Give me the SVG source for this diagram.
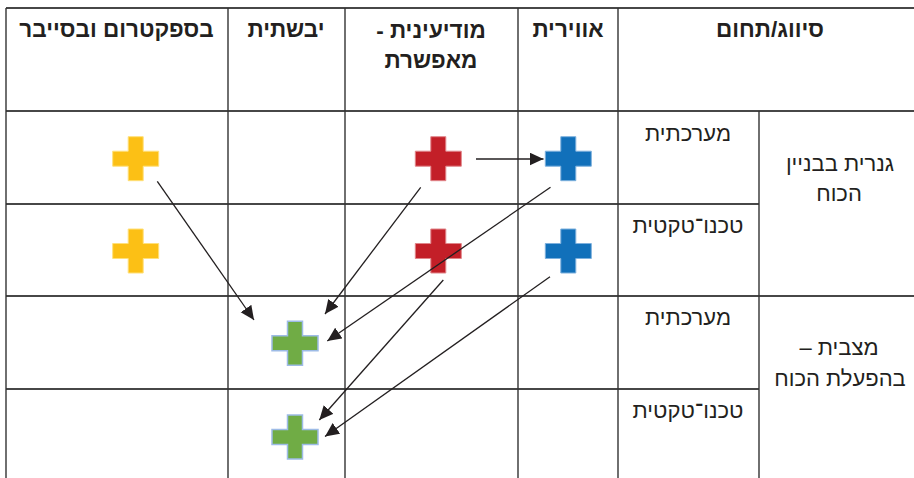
<svg xmlns="http://www.w3.org/2000/svg" width="914" height="478" viewBox="0 0 914 478">
<style>
.hl{stroke:#474747;stroke-width:2;fill:none}
.vl{stroke:#333;stroke-width:1.4;fill:none}
.h{font-family:"Liberation Sans","DejaVu Sans",sans-serif;font-weight:bold;font-size:22.5px;fill:#231F20;text-anchor:middle}
.t{font-family:"Liberation Sans","DejaVu Sans",sans-serif;font-size:22px;fill:#231F20;text-anchor:middle}
.c{stroke:#231F20;stroke-width:1.3;fill:none;marker-end:url(#ah)}
.yel{fill:#FCC015;stroke:#FFE07A;stroke-width:1}
.red{fill:#C31F28;stroke:#E0868A;stroke-width:1}
.blu{fill:#1170BA;stroke:#7DB0DD;stroke-width:1}
.grn{fill:#70AC45;stroke:#9DBBE6;stroke-width:1.5}
</style>
<defs>
<marker id="ah" markerUnits="userSpaceOnUse" markerWidth="16" markerHeight="14" refX="14" refY="6.5" orient="auto">
<path d="M0,0 L14,6.5 L0,13 z" fill="#231F20"/>
</marker>
<path id="cross" d="M-7.5,-22 h15 v14.5 h15.5 v15 h-15.5 v14.5 h-15 v-14.5 h-15.5 v-15 h15.5 z"/>
</defs>
<rect width="914" height="478" fill="#fff"/>
<g id="grid">
<line class="hl" x1="6" y1="8" x2="914" y2="8"/>
<line class="hl" x1="6" y1="111" x2="914" y2="111"/>
<line class="hl" x1="6" y1="204" x2="759" y2="204"/>
<line class="hl" x1="6" y1="296" x2="914" y2="296"/>
<line class="hl" x1="6" y1="389" x2="759" y2="389"/>
<line class="vl" x1="6" y1="8" x2="6" y2="478"/>
<line class="vl" x1="228" y1="8" x2="228" y2="478"/>
<line class="vl" x1="345" y1="8" x2="345" y2="478"/>
<line class="vl" x1="518" y1="8" x2="518" y2="478"/>
<line class="vl" x1="618" y1="8" x2="618" y2="478"/>
<line class="vl" x1="759" y1="111" x2="759" y2="478"/>
</g>
<g id="headers">
<text class="h" x="116.5" y="37" direction="rtl">בספקטרום ובסייבר</text>
<text class="h" x="286" y="37" direction="rtl">יבשתית</text>
<text class="h" x="431" y="38" direction="rtl">מודיעינית -</text>
<text class="h" x="431" y="68" direction="rtl">מאפשרת</text>
<text class="h" x="568" y="37" direction="rtl">אווירית</text>
<text class="h" x="770" y="37" direction="rtl">סיווג/תחום</text>
</g>
<g id="row-labels">
<text class="t" x="688" y="141" direction="rtl">מערכתית</text>
<text class="t" x="688" y="233" direction="rtl">טכנו־טקטית</text>
<text class="t" x="688" y="325" direction="rtl">מערכתית</text>
<text class="t" x="688" y="418" direction="rtl">טכנו־טקטית</text>
<text class="t" x="840" y="171" direction="rtl">גנרית בבניין</text>
<text class="t" x="839" y="201" direction="rtl">הכוח</text>
<text class="t" x="839" y="355" direction="rtl">מצבית –</text>
<text class="t" x="840" y="386" direction="rtl">בהפעלת הכוח</text>
</g>
<g id="node-yellow-1"><use href="#cross" class="yel" x="135.7" y="158.7"/></g>
<g id="node-yellow-2"><use href="#cross" class="yel" x="135.7" y="251"/></g>
<g id="node-red-1"><use href="#cross" class="red" x="438.3" y="158.7"/></g>
<g id="node-red-2"><use href="#cross" class="red" x="438.3" y="251"/></g>
<g id="node-blue-1"><use href="#cross" class="blu" x="568.3" y="158.7"/></g>
<g id="node-blue-2"><use href="#cross" class="blu" x="568.3" y="251"/></g>
<g id="node-green-1"><use href="#cross" class="grn" x="295" y="343.3"/></g>
<g id="node-green-2"><use href="#cross" class="grn" x="295" y="437"/></g>
<g id="connectors">
<line class="c" x1="476" y1="159" x2="543.5" y2="159"/>
<line class="c" x1="157.3" y1="181.3" x2="254" y2="320"/>
<line class="c" x1="420.7" y1="187.3" x2="325" y2="314"/>
<line class="c" x1="550.5" y1="187.3" x2="327.3" y2="341"/>
<line class="c" x1="443.3" y1="280" x2="319.3" y2="420"/>
<line class="c" x1="550" y1="276.7" x2="325" y2="436.5"/>
</g>
</svg>
